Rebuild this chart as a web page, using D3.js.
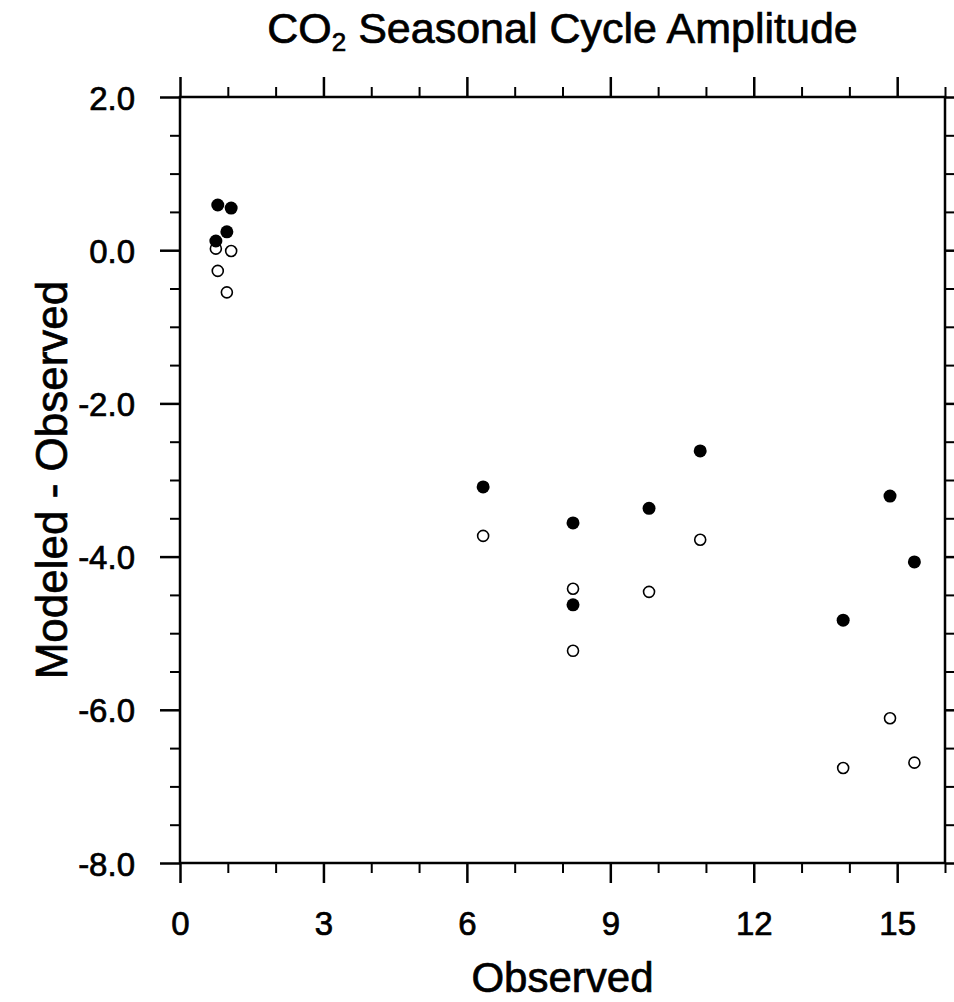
<!DOCTYPE html>
<html>
<head>
<meta charset="utf-8">
<script src="https://cdn.jsdelivr.net/npm/d3@7/dist/d3.min.js"></script>
<style>
  html, body { margin: 0; padding: 0; background: #fff; }
  svg { display: block; }
  text { font-family: "Liberation Sans", Arial, Helvetica, sans-serif; fill: #000; stroke: #000; stroke-width: 0.7px; }
</style>
</head>
<body>
<svg id="chart" width="954" height="1002"></svg>
<script>
// ---- Data ----
const observed = [0.79, 1.07, 0.98, 0.75, 6.34, 8.22, 8.22, 9.81, 10.88, 13.87, 14.85, 15.36];
const diffFilled = [0.59, 0.55, 0.24, 0.12, -3.09, -3.56, -4.63, -3.37, -2.62, -4.83, -3.21, -4.07];
const diffOpen = [-0.27, -0.01, -0.55, 0.02, -3.73, -4.42, -5.23, -4.46, -3.78, -6.76, -6.11, -6.69];

const xMajorTicks = [0, 3, 6, 9, 12, 15];
const xMinorTicks = [1, 2, 4, 5, 7, 8, 10, 11, 13, 14, 16];
const yMajorTicks = [2, 0, -2, -4, -6, -8];
const yMinorTicks = [1.5, 1, 0.5, -0.5, -1, -1.5, -2.5, -3, -3.5, -4.5, -5, -5.5, -6.5, -7, -7.5];

const titleMain = "CO";
const titleSub = "2";
const titleRest = " Seasonal Cycle Amplitude";
const xLabel = "Observed";
const yLabel = "Modeled - Observed";

// ---- Layout ----
const pL = 180, pR = 945, pT = 97, pB = 863;
const svg = d3.select("#chart");

const x = d3.scaleLinear().domain([0, 16]).range([pL, pR]);
const y = d3.scaleLinear().domain([-8, 2]).range([pB, pT]);

const majorLen = 20, minorLen = 10;
const lw = 2.5, minorW = 2;

function styleAxis(g, w) {
  g.selectAll(".domain").remove();
  g.selectAll(".tick line").attr("stroke", "#000").attr("stroke-width", w);
  g.selectAll(".tick text").remove();
}

// Bottom axis
const gxB = svg.append("g").attr("transform", `translate(0,${pB})`)
  .call(d3.axisBottom(x).tickValues(xMajorTicks).tickSize(majorLen).tickSizeOuter(0).tickFormat(d3.format("d")));
gxB.select(".domain").remove();
gxB.selectAll(".tick line").attr("stroke", "#000").attr("stroke-width", lw);
gxB.selectAll(".tick text").attr("y", 72).attr("dy", 0).attr("font-size", 33)
  .attr("fill", "#000");
svg.append("g").attr("transform", `translate(0,${pB})`)
  .call(d3.axisBottom(x).tickValues(xMinorTicks).tickSize(minorLen).tickSizeOuter(0))
  .call(g => styleAxis(g, minorW));

// Top axis
svg.append("g").attr("transform", `translate(0,${pT})`)
  .call(d3.axisTop(x).tickValues(xMajorTicks).tickSize(majorLen).tickSizeOuter(0))
  .call(g => styleAxis(g, lw));
svg.append("g").attr("transform", `translate(0,${pT})`)
  .call(d3.axisTop(x).tickValues(xMinorTicks).tickSize(minorLen).tickSizeOuter(0))
  .call(g => styleAxis(g, minorW));

// Left axis
const gyL = svg.append("g").attr("transform", `translate(${pL},0)`)
  .call(d3.axisLeft(y).tickValues(yMajorTicks).tickSize(majorLen).tickSizeOuter(0));
gyL.select(".domain").remove();
gyL.selectAll(".tick line").attr("stroke", "#000").attr("stroke-width", lw);
gyL.selectAll(".tick text").attr("x", -45).attr("dy", 12).attr("font-size", 33)
  .attr("fill", "#000")
  .text(d => d3.format(".1f")(d).replace("\u2212", "-"));
svg.append("g").attr("transform", `translate(${pL},0)`)
  .call(d3.axisLeft(y).tickValues(yMinorTicks).tickSize(minorLen).tickSizeOuter(0))
  .call(g => styleAxis(g, minorW));

// Right axis
svg.append("g").attr("transform", `translate(${pR},0)`)
  .call(d3.axisRight(y).tickValues(yMajorTicks).tickSize(majorLen).tickSizeOuter(0))
  .call(g => styleAxis(g, lw));
svg.append("g").attr("transform", `translate(${pR},0)`)
  .call(d3.axisRight(y).tickValues(yMinorTicks).tickSize(minorLen).tickSizeOuter(0))
  .call(g => styleAxis(g, minorW));

// Frame
svg.append("rect")
  .attr("x", pL).attr("y", pT)
  .attr("width", pR - pL).attr("height", pB - pT)
  .attr("fill", "none").attr("stroke", "#000").attr("stroke-width", lw);

// Open markers (drawn first)
svg.append("g").selectAll("circle")
  .data(observed.map((v, i) => ({ x: v, y: diffOpen[i] })))
  .join("circle")
  .attr("cx", d => x(d.x)).attr("cy", d => y(d.y))
  .attr("r", 5.5)
  .attr("fill", "#fff").attr("stroke", "#000").attr("stroke-width", 1.6);

// Filled markers
svg.append("g").selectAll("circle")
  .data(observed.map((v, i) => ({ x: v, y: diffFilled[i] })))
  .join("circle")
  .attr("cx", d => x(d.x)).attr("cy", d => y(d.y))
  .attr("r", 6.5)
  .attr("fill", "#000");

// Title
const title = svg.append("text")
  .attr("x", (pL + pR) / 2).attr("y", 43)
  .attr("text-anchor", "middle").attr("font-size", 43);
title.append("tspan").text(titleMain);
title.append("tspan").attr("font-size", 26).attr("dy", 8).text(titleSub);
title.append("tspan").attr("dy", -8).text(titleRest);

// Axis labels
svg.append("text")
  .attr("x", (pL + pR) / 2).attr("y", 992)
  .attr("text-anchor", "middle").attr("font-size", 42)
  .text(xLabel);

svg.append("text")
  .attr("transform", `translate(67,${(pT + pB) / 2}) rotate(-90)`)
  .attr("text-anchor", "middle").attr("font-size", 44)
  .text(yLabel);
</script>
</body>
</html>
